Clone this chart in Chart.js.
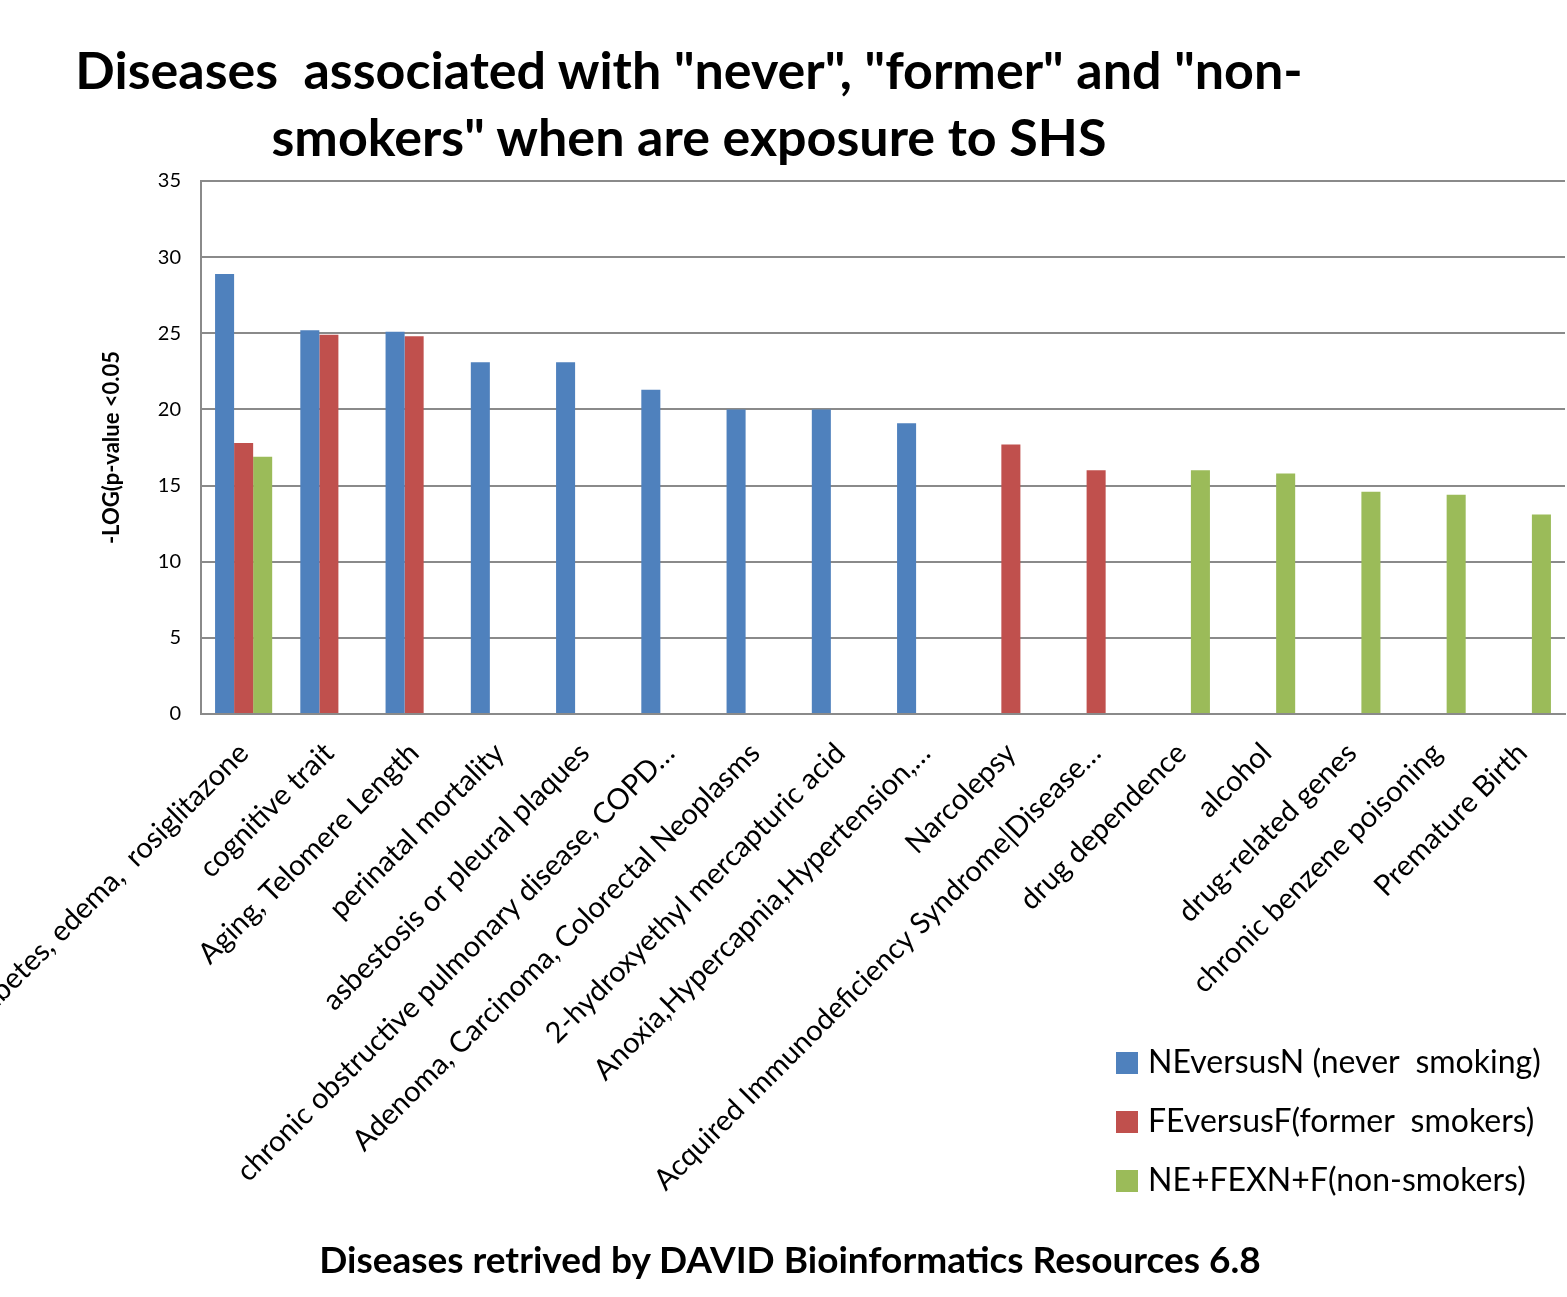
<!DOCTYPE html>
<html>
<head>
<meta charset="utf-8">
<script src="https://cdn.jsdelivr.net/npm/chart.js@4"></script>
<style>
  body { margin: 0; background: #fff; }
  #wrap { position: relative; width: 1567px; height: 1297px; overflow: hidden; }
  canvas { position: absolute; left: 0; top: 0; }
  .titre { position: absolute; left: 0; top: 36px; width: 1378px; text-align: center;
    font: bold 52px Lato, sans-serif; line-height: 67px; white-space: pre; color: #000; }
  .legenda { position: absolute; left: 1116px; top: 1039px; font: 32px Lato, sans-serif; color: #000; }
  .legenda div { height: 59px; line-height: 44px; white-space: pre; }
  .legenda span { display: inline-block; width: 22px; height: 22px; margin-right: 10px; vertical-align: -1px; }
  .eixo-x { position: absolute; left: 0; top: 1236px; width: 1580px; text-align: center;
    font: bold 37px Lato, sans-serif; color: #000; white-space: pre; }
</style>
</head>
<body>
<div id="wrap">
  <canvas id="grafico-doencas" width="1567" height="1297"></canvas>
  <div class="titre">Diseases  associated with "never", "former" and "non-
smokers" when are exposure to SHS</div>
  <div class="legenda" id="legenda"></div>
  <div class="eixo-x">Diseases retrived by DAVID Bioinformatics Resources 6.8</div>
</div>
<script>
// Doenças (categorias do eixo x)
var doencas = [
  "Diabetes, edema,  rosiglitazone",
  "cognitive trait",
  "Aging, Telomere Length",
  "perinatal mortality",
  "asbestosis or pleural plaques",
  "chronic obstructive pulmonary disease, COPD…",
  "Adenoma, Carcinoma, Colorectal Neoplasms",
  "2-hydroxyethyl mercapturic acid",
  "Anoxia,Hypercapnia,Hypertension,…",
  "Narcolepsy",
  "Acquired Immunodeficiency Syndrome|Disease…",
  "drug dependence",
  "alcohol",
  "drug-related genes",
  "chronic benzene poisoning",
  "Premature Birth"
];

// -LOG(p-value) por grupo
var nuncaFumou = [28.9, 25.2, 25.1, 23.1, 23.1, 21.3, 20.0, 20.0, 19.1, null, null, null, null, null, null, null];
var exFumante = [17.8, 24.9, 24.8, null, null, null, null, null, null, 17.7, 16.0, null, null, null, null, null];
var naoFumante = [16.9, null, null, null, null, null, null, null, null, null, null, 16.0, 15.8, 14.6, 14.4, 13.1];

var nomesSeries = ["NEversusN (never  smoking)", "FEversusF(former  smokers)", "NE+FEXN+F(non-smokers)"];
var cores = ["#4F81BD", "#C0504D", "#9BBB59"];

var ticksY = [0, 5, 10, 15, 20, 25, 30, 35];

var ctx = document.getElementById("grafico-doencas").getContext("2d");

var graficoDoencas = new Chart(ctx, {
  type: "bar",
  data: {
    labels: doencas,
    datasets: [
      { label: nomesSeries[0], data: nuncaFumou, backgroundColor: cores[0] },
      { label: nomesSeries[1], data: exFumante, backgroundColor: cores[1] },
      { label: nomesSeries[2], data: naoFumante, backgroundColor: cores[2] },
    ],
  },
  options: {
    responsive: false,
    animation: false,
    categoryPercentage: 0.67,
    barPercentage: 1.0,
    layout: { padding: { left: 0, top: 181, right: 2, bottom: 83 } },
    plugins: { legend: { display: false }, tooltip: { enabled: false } },
    scales: {
      x: {
        grid: { display: false },
        border: { color: "#8a8a8a", width: 2 },
        ticks: {
          color: "#000",
          font: { family: "Lato", size: 29 },
          autoSkip: false,
          maxRotation: 45,
          minRotation: 45,
          padding: 14,
        },
        afterFit: function (escala) {
          escala.paddingLeft = 0;
          escala.paddingRight = 0;
          escala.height = 500;
        },
      },
      y: {
        min: 0,
        max: 35,
        afterBuildTicks: function (escala) {
          escala.ticks = ticksY.map(function (v) { return { value: v }; });
        },
        grid: { color: "#8a8a8a", lineWidth: 2, drawTicks: false },
        border: { color: "#8a8a8a", width: 2 },
        ticks: {
          color: "#000",
          font: { family: "Lato", size: 20 },
          padding: 20,
        },
        title: {
          display: true,
          text: "-LOG(p-value <0.05",
          color: "#000",
          font: { family: "Lato", size: 22, weight: "bold" },
          padding: { top: 99, bottom: 0 },
        },
        afterFit: function (escala) {
          escala.width = 201;
          escala.paddingTop = 0;
          escala.paddingBottom = 0;
        },
      },
    },
  },
});

// legenda
var legenda = document.getElementById("legenda");
nomesSeries.forEach(function (nome, i) {
  var linha = document.createElement("div");
  var quadrado = document.createElement("span");
  quadrado.style.background = cores[i];
  linha.appendChild(quadrado);
  linha.appendChild(document.createTextNode(nome));
  legenda.appendChild(linha);
});
</script>
</body>
</html>
